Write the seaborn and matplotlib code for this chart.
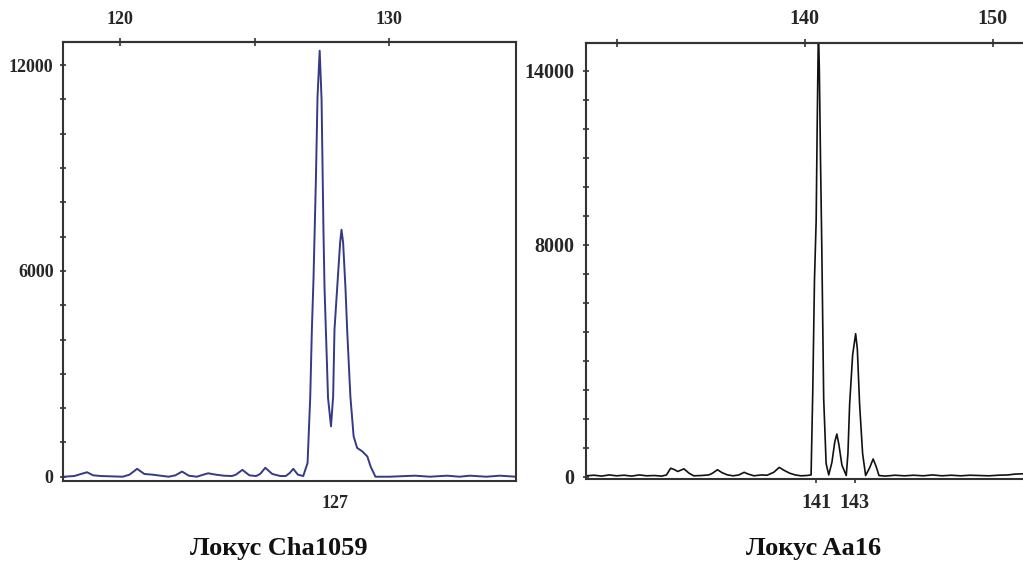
import matplotlib
matplotlib.use("Agg")
import matplotlib.pyplot as plt
import seaborn as sns
import pandas as pd
from matplotlib.ticker import FixedLocator, MultipleLocator

# ---------------- data ----------------
# Locus Cha1059 (fragment size, signal)
cha_size = [117.90, 118.30, 118.55, 118.77, 119.00, 119.30, 119.70, 120.10, 120.35, 120.63,
            120.90, 121.20, 121.50, 121.80, 122.05, 122.30, 122.55, 122.85, 123.05, 123.27,
            123.55, 123.85, 124.15, 124.30, 124.54, 124.80, 125.05, 125.20, 125.39, 125.65,
            125.95, 126.15, 126.30, 126.43, 126.60, 126.80, 126.96, 127.06, 127.12, 127.18,
            127.27, 127.33, 127.41, 127.48, 127.55, 127.59, 127.68, 127.72, 127.83, 127.91,
            127.96, 128.08, 128.17, 128.22, 128.28, 128.37, 128.43, 128.55, 128.67, 128.80,
            128.99, 129.18, 129.30, 129.48, 130.00, 130.95, 131.50, 132.14, 132.60, 132.99,
            133.60, 134.10, 134.70]
cha_signal = [0, 20, 80, 130, 40, 20, 10, 0, 60, 230,
              80, 60, 30, 0, 40, 150, 30, 0, 50, 100,
              60, 30, 20, 60, 200, 40, 20, 80, 260, 80,
              20, 20, 110, 230, 60, 20, 400, 2340, 4290, 5750,
              8670, 11080, 12420, 11000, 7200, 5500, 3300, 2300, 1470, 2340,
              4290, 5750, 6830, 7200, 6830, 5460, 4290, 2340, 1180, 840,
              740, 590, 300, 0, 0, 30, 0, 30, 0, 30,
              0, 30, 0]

# Locus Aa16 (fragment size, signal)
aa_size = [128.37, 128.80, 129.20, 129.60, 130.00, 130.40, 130.80, 131.20, 131.60, 132.00,
           132.40, 132.65, 132.87, 133.05, 133.25, 133.58, 133.85, 134.10, 134.50, 134.90,
           135.10, 135.36, 135.60, 135.90, 136.20, 136.50, 136.78, 137.00, 137.30, 137.70,
           138.00, 138.35, 138.65, 138.90, 139.20, 139.50, 139.80, 140.10, 140.34, 140.43,
           140.52, 140.61, 140.66, 140.73, 140.78, 140.84, 140.91, 141.01, 141.14, 141.28,
           141.45, 141.60, 141.71, 141.82, 141.98, 142.21, 142.30, 142.39, 142.55, 142.71,
           142.80, 142.92, 143.08, 143.24, 143.45, 143.64, 143.80, 143.95, 144.30, 144.80,
           145.30, 145.80, 146.30, 146.80, 147.30, 147.80, 148.30, 148.80, 149.30, 149.80,
           150.30, 150.80, 151.20, 151.61]
aa_signal = [30, 50, 20, 60, 30, 50, 20, 60, 30, 40,
             20, 60, 290, 250, 180, 270, 120, 30, 40, 60,
             120, 240, 140, 60, 30, 60, 150, 90, 30, 60,
             50, 150, 320, 220, 120, 60, 30, 40, 60, 2970,
             6760, 8830, 11830, 15500, 14000, 11000, 7900, 2700, 450, 60,
             500, 1200, 1470, 1100, 400, 40, 800, 2500, 4200, 4930,
             4400, 2500, 800, 40, 300, 610, 350, 40, 20, 50,
             30, 50, 30, 60, 30, 50, 30, 50, 40, 30,
             50, 60, 90, 100]

cha_top_ticks = [120, 125, 130]
cha_top_labels = ["120", "", "130"]
cha_y_major = [0, 6000, 12000]
cha_allele_pos = [127.98]
cha_allele_labels = ["127"]

aa_top_ticks = [130, 140, 150]
aa_top_labels = ["", "140", "150"]
aa_y_major = [0, 8000, 14000]
aa_allele_pos = [140.62, 142.66]
aa_allele_labels = ["141", "143"]

titles = ["Локус Cha1059", "Локус Aa16"]

# ---------------- drawing ----------------
sns.set_theme(style="white")
plt.rcParams["font.family"] = ["Liberation Serif", "DejaVu Serif"]
plt.rcParams["font.weight"] = "bold"

W, H = 1023, 561
fig = plt.figure(figsize=(W / 100, H / 100), dpi=100)
fig.patch.set_facecolor("white")

def px_axes(l, t, r, b):
    return fig.add_axes([l / W, 1 - b / H, (r - l) / W, (b - t) / H])

ax1 = px_axes(63.3, 41.7, 516, 481)
ax2 = px_axes(586, 42.7, 1030, 479)

spine_col = "#333333"

def style(ax, df, color, xlim, ylim, ymajor, top_ticks, top_labels, allele_pos,
          allele_labels, fs, ypad, show_bottom_ticks, lw):
    sns.lineplot(data=df, x="size", y="signal", ax=ax, color=color, lw=lw,
                 sort=False, estimator=None)
    ax.set_xlim(*xlim)
    ax.set_ylim(*ylim)
    ax.set_xlabel("")
    ax.set_ylabel("")
    ax.set_facecolor("white")
    for s in ax.spines.values():
        s.set_color(spine_col)
        s.set_linewidth(1.5)
        s.set_visible(True)
    ax.yaxis.set_major_locator(FixedLocator(ymajor))
    ax.yaxis.set_minor_locator(MultipleLocator(1000))
    ax.set_yticklabels([str(v) for v in ymajor])
    ax.tick_params(axis="y", which="both", direction="inout", left=True, length=5,
                   width=1.2, color=spine_col, labelsize=fs, pad=ypad)
    ax.tick_params(axis="y", which="minor", length=5)
    ax.set_xticks(allele_pos)
    ax.set_xticklabels(allele_labels)
    ax.tick_params(axis="x", which="both", bottom=show_bottom_ticks, top=False,
                   direction="out", length=3 if show_bottom_ticks else 0, width=1.2,
                   color=spine_col, labelsize=fs, pad=7 if show_bottom_ticks else 10)
    for lab in ax.get_xticklabels() + ax.get_yticklabels():
        lab.set_fontweight("bold")
    sec = ax.secondary_xaxis("top")
    sec.set_xticks(top_ticks)
    sec.set_xticklabels(top_labels)
    sec.spines["top"].set_color(spine_col)
    sec.spines["top"].set_linewidth(1.5)
    sec.tick_params(axis="x", direction="inout", length=6, width=1.2,
                    color=spine_col, labelsize=fs, pad=7)
    for lab in sec.get_xticklabels():
        lab.set_fontweight("bold")
    return sec

df1 = pd.DataFrame({"size": cha_size, "signal": cha_signal})
df2 = pd.DataFrame({"size": aa_size, "signal": aa_signal})

style(ax1, df1, "#343a86", (117.89, 134.70), (-125, 12682), cha_y_major,
      cha_top_ticks, cha_top_labels, cha_allele_pos, cha_allele_labels,
      13, 4.5, False, 1.4)
style(ax2, df2, "#111111", (128.37, 151.61 + 7 / 18.8), (-80, 14966), aa_y_major,
      aa_top_ticks, aa_top_labels, aa_allele_pos, aa_allele_labels,
      14.5, 6.0, True, 1.2)
ax2.spines["right"].set_visible(False)

fig.text(279 / W, 1 - 548 / H, titles[0], ha="center", va="center",
         fontsize=19, fontweight="bold", color="#111111")
fig.text(814 / W, 1 - 548 / H, titles[1], ha="center", va="center",
         fontsize=19, fontweight="bold", color="#111111")

fig.savefig("out.png", dpi=100, facecolor="white")
